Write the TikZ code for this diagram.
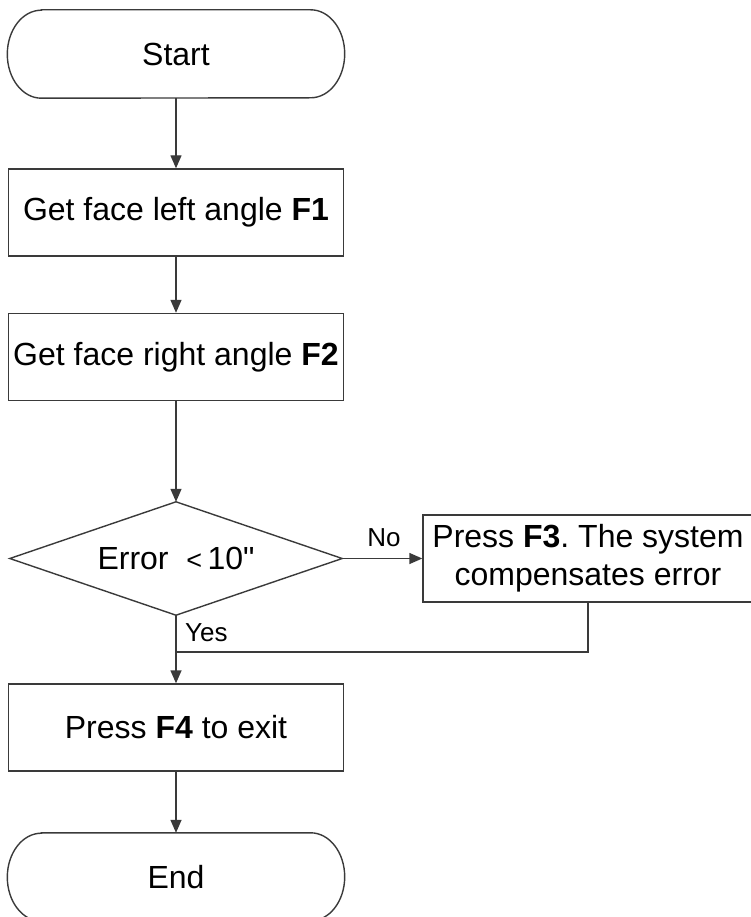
\documentclass[tikz,border=0pt]{standalone}
\usepackage{fontspec}
\setmainfont{Liberation Sans}
\newfontfamily\nomap{Liberation Sans}
\usetikzlibrary{arrows.meta,calc}
\definecolor{edge}{HTML}{3A3A3A}
\begin{document}
\frenchspacing
\begin{tikzpicture}[x=1pt,y=-1pt,
  outline/.style={draw=edge,line width=1.4pt},
  boxnode/.style={outline,rectangle,minimum width=335pt,minimum height=87pt,inner sep=0pt,align=center,font=\fontsize{32}{38}\selectfont},
  termnode/.style={rectangle,minimum width=337pt,minimum height=88pt,inner sep=0pt,font=\fontsize{32}{38}\selectfont},
  lbl/.style={inner sep=0pt,font=\fontsize{26}{30}\selectfont},
  conn/.style={draw=edge,line width=1.4pt},
  arrow/.style={conn,-{Triangle[length=13pt,width=11pt]}}]
\useasboundingbox (0,0) rectangle (751,917);
\clip (0,0) rectangle (751,917);

% terminals
\node[termnode] (start) at (176,54) {Start};
\draw[outline] ([xshift=34pt]start.north west) -- ([xshift=-34pt]start.north east)
  arc[start angle=90,end angle=-90,x radius=34pt,y radius=44pt]
  -- ([xshift=34pt]start.south west)
  arc[start angle=270,end angle=90,x radius=34pt,y radius=44pt] -- cycle;

\node[termnode] (end) at (176,877) {End};
\draw[outline] ([xshift=34pt]end.north west) -- ([xshift=-34pt]end.north east)
  arc[start angle=90,end angle=-90,x radius=34pt,y radius=44pt]
  -- ([xshift=34pt]end.south west)
  arc[start angle=270,end angle=90,x radius=34pt,y radius=44pt] -- cycle;

% process boxes
\node[boxnode] (b1) at (176,212.5) {Get face left angle \textbf{F1}};
\node[boxnode] (b2) at (176,357) {Get face right angle \textbf{F2}};
\node[boxnode,minimum width=330pt] (b3) at (588,558.5) {Press \textbf{F3}. The system\\compensates error};
\node[boxnode] (b4) at (176,727.5) {Press \textbf{F4} to exit};

% decision
\node[rectangle,minimum width=332pt,minimum height=113pt,inner sep=0pt,font=\fontsize{32}{38}\selectfont] (dec) at (176,558.5) {Error\ \ {\fontsize{27}{30}\selectfont<}\,10{\nomap "}};
\draw[outline] (dec.north) -- (dec.east) -- (dec.south) -- (dec.west) -- cycle;

% connectors
\coordinate (join) at (176,652);
\draw[arrow] (start) -- (b1);
\draw[arrow] (b1) -- (b2);
\draw[arrow] (b2) -- (dec.north);
\draw[arrow] (dec.east) -- (b3.west);
\draw[arrow] (dec.south) -- (b4.north);
\draw[conn] (b3.south) |- (join);
\draw[arrow] (b4) -- (end);

% labels
\node[lbl] (no) at (384,538) {No};
\node[lbl,anchor=west] (yes) at (185,633) {Yes};
\end{tikzpicture}
\end{document}
